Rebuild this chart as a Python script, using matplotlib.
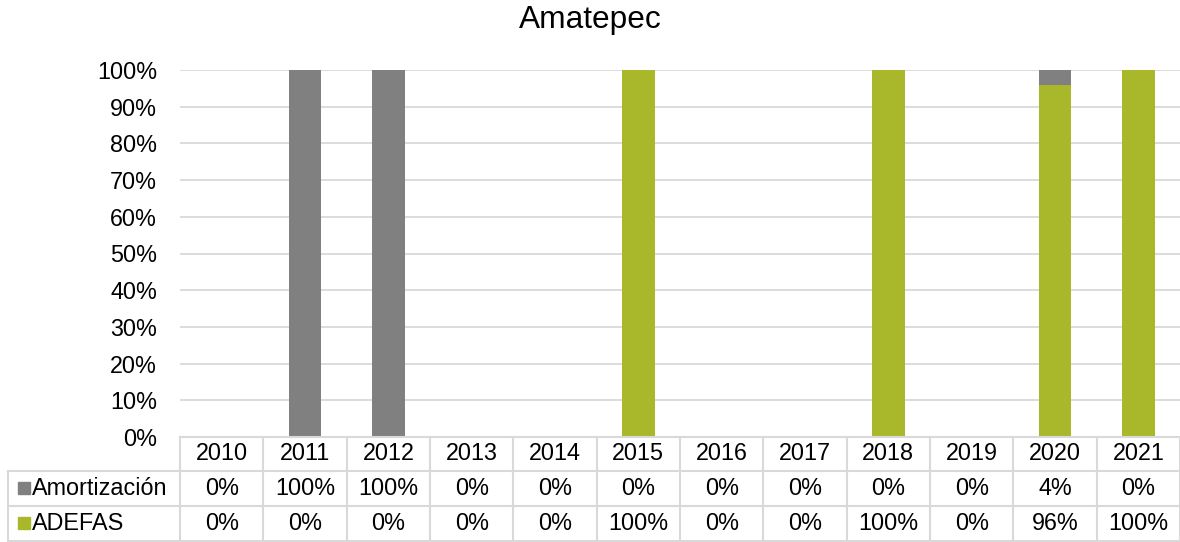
import matplotlib
matplotlib.use('Agg')
import matplotlib.pyplot as plt
import matplotlib.transforms as mtransforms
import numpy as np

plt.rcParams['font.family'] = ['Liberation Sans', 'DejaVu Sans']

years = ['2010', '2011', '2012', '2013', '2014', '2015', '2016', '2017', '2018', '2019', '2020', '2021']
adefas = [0, 0, 0, 0, 0, 100, 0, 0, 100, 0, 96, 100]
amortizacion = [0, 100, 100, 0, 0, 0, 0, 0, 0, 0, 4, 0]
series_names = ['Amortización', 'ADEFAS']
title = 'Amatepec'

c_amort = '#808080'
c_adefas = '#A8B82A'
c_grid = '#D9D9D9'
fs = 16.8

W, H = 1180, 542
fig = plt.figure(figsize=(W / 100, H / 100), dpi=100)
ax = fig.add_axes([180 / W, 1 - 437 / H, 1000 / W, 367 / H])

x = np.arange(len(years))
a = np.array(adefas) / 100
m = np.array(amortizacion) / 100
ax.bar(x, a, width=0.39, color=c_adefas, zorder=3)
ax.bar(x, m, width=0.39, bottom=a, color=c_amort, zorder=3)

ax.set_xlim(-0.5, len(years) - 0.5)
ax.set_ylim(0, 1)
ax.set_yticks(np.arange(0, 1.01, 0.1))
ax.set_yticklabels([f'{int(round(v * 100))}%' for v in np.arange(0, 1.01, 0.1)], fontsize=fs)
ax.set_xticks([])
ax.tick_params(axis='y', length=0, pad=16.5)
ax.grid(axis='y', color=c_grid, linewidth=1.3, zorder=0)
for s in ax.spines.values():
    s.set_visible(False)

fig.text(590 / W, 1 - 20 / H, title, fontsize=22.8, ha='center', va='center')

# data table under the axis
tr = mtransforms.blended_transform_factory(ax.transData, ax.transAxes)
def py(p):
    return (437 - p) / 367.0
x_left = (8 - 180) / (1000 / 12) - 0.5
y_rows = [py(437), py(470.7), py(506), py(540.5)]
lk = dict(color=c_grid, linewidth=1.5, transform=tr, clip_on=False, zorder=5)

ax.plot([-0.5, len(years) - 0.5], [y_rows[0]] * 2, **lk)
for yy in y_rows[1:]:
    ax.plot([x_left, len(years) - 0.5], [yy] * 2, **lk)
for i in range(len(years) + 1):
    ax.plot([i - 0.5] * 2, [y_rows[0], y_rows[3]], **lk)
ax.plot([x_left] * 2, [y_rows[1], y_rows[3]], **lk)

tk = dict(transform=tr, fontsize=fs, ha='center', va='center', clip_on=False)
yc = [(y_rows[k] + y_rows[k + 1]) / 2 for k in range(3)]
for i, yr in enumerate(years):
    ax.text(i, yc[0], yr, **tk)
    ax.text(i, yc[1], f'{amortizacion[i]}%', **tk)
    ax.text(i, yc[2], f'{adefas[i]}%', **tk)

x_sq = (24 - 180) / (1000 / 12) - 0.5
x_lab = (32 - 180) / (1000 / 12) - 0.5
for k, (name, col) in enumerate(zip(series_names, [c_amort, c_adefas])):
    ax.plot([x_sq], [yc[k + 1]], marker='s', markersize=8.5, color=col,
            linestyle='none', transform=tr, clip_on=False)
    ax.text(x_lab, yc[k + 1], name, transform=tr, fontsize=fs, ha='left',
            va='center', clip_on=False)

fig.savefig('out.png', dpi=100)
